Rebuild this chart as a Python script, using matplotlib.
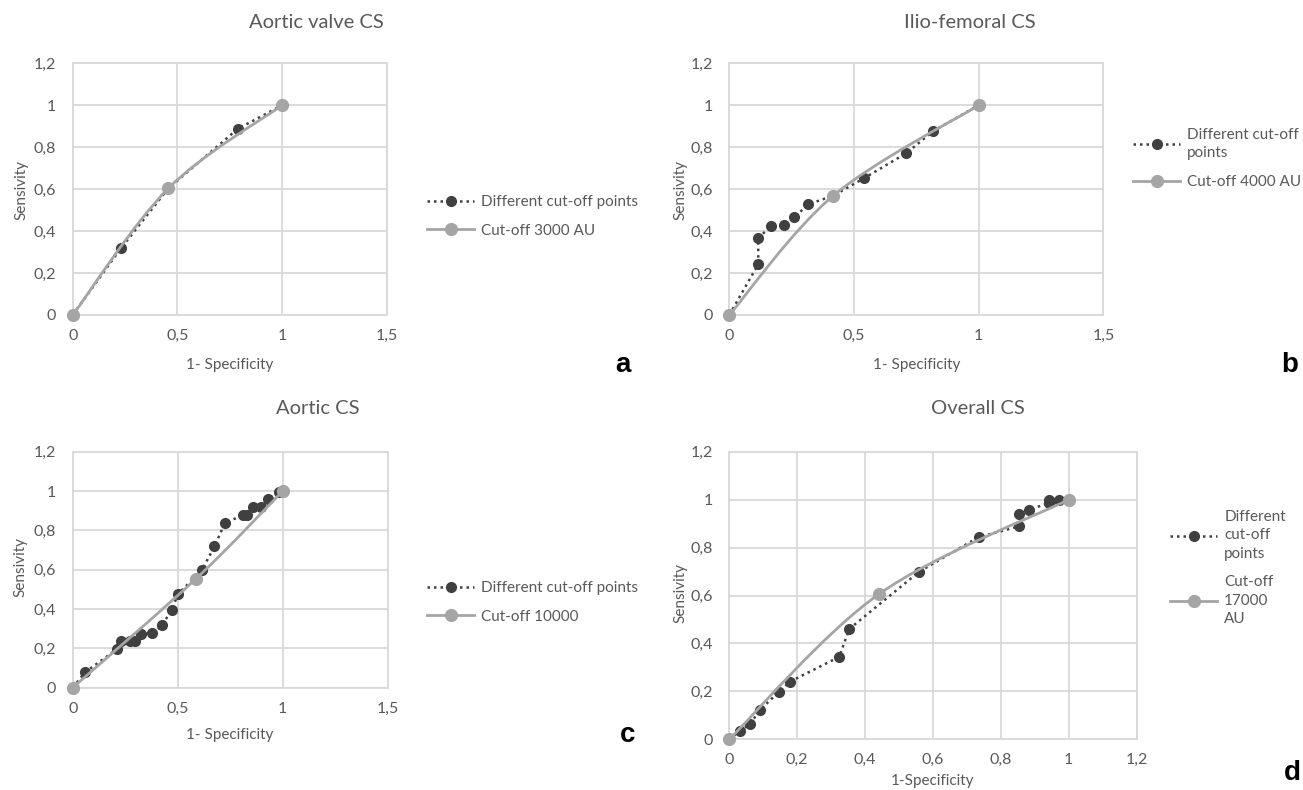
import numpy as np
import matplotlib
matplotlib.use('Agg')
import matplotlib.pyplot as plt
from matplotlib.path import Path
from matplotlib.patches import PathPatch
from matplotlib.lines import Line2D
from matplotlib.ticker import FuncFormatter, MultipleLocator

plt.rcParams['font.family'] = ['Lato', 'DejaVu Sans']

# ---- data ----
# a: Aortic valve CS
av_x = [0, 0.23, 0.457, 0.788, 1]
av_y = [0, 0.318, 0.604, 0.887, 1]
av_cut_x = [0, 0.457, 1]
av_cut_y = [0, 0.604, 1]

# b: Ilio-femoral CS
if_x = [0, 0.116, 0.116, 0.168, 0.218, 0.261, 0.317, 0.417, 0.540, 0.709, 0.818, 1]
if_y = [0, 0.242, 0.366, 0.426, 0.429, 0.466, 0.528, 0.569, 0.652, 0.771, 0.877, 1]
if_cut_x = [0, 0.417, 1]
if_cut_y = [0, 0.569, 1]

# c: Aortic CS
ao_x = [0, 0.059, 0.210, 0.229, 0.273, 0.297, 0.325, 0.379, 0.427, 0.471, 0.503,
        0.614, 0.675, 0.725, 0.813, 0.829, 0.860, 0.895, 0.932, 0.984, 1]
ao_y = [0, 0.078, 0.196, 0.238, 0.236, 0.236, 0.275, 0.277, 0.318, 0.397, 0.478,
        0.596, 0.718, 0.838, 0.878, 0.878, 0.919, 0.919, 0.959, 0.997, 1]
ao_cut_x = [0, 0.587, 1]
ao_cut_y = [0, 0.554, 1]

# d: Overall CS
ov_x = [0, 0.031, 0.061, 0.090, 0.147, 0.178, 0.324, 0.353, 0.559, 0.735,
        0.853, 0.853, 0.882, 0.941, 0.941, 0.971, 1]
ov_y = [0, 0.035, 0.063, 0.122, 0.199, 0.240, 0.344, 0.460, 0.699, 0.844,
        0.888, 0.942, 0.958, 0.985, 1.0, 1.0, 1]
ov_cut_x = [0, 0.441, 1]
ov_cut_y = [0, 0.606, 1]

titles = ['Aortic valve CS', 'Ilio-femoral CS', 'Aortic CS', 'Overall CS']
xlabels = ['1- Specificity', '1- Specificity', '1- Specificity', '1-Specificity']
dark_label = 'Different cut-off points'
cut_labels = ['Cut-off 3000 AU', 'Cut-off 4000 AU', 'Cut-off 10000', 'Cut-off 17000 AU']
panel_letters = ['a', 'b', 'c', 'd']

DARK = '#404040'
GRAY = '#a5a5a5'
TXT = '#595959'
GRID = '#d9d9d9'


def smooth_path(xs, ys):
    # excel-style smoothed line: cubic bezier through the points
    pts = np.column_stack([xs, ys]).astype(float)
    n = len(pts)
    verts = [pts[0]]
    codes = [Path.MOVETO]
    for i in range(n - 1):
        p0 = pts[max(i - 1, 0)]
        p1 = pts[i]
        p2 = pts[i + 1]
        p3 = pts[min(i + 2, n - 1)]
        verts += [p1 + (p2 - p0) / 6, p2 - (p3 - p1) / 6, p2]
        codes += [Path.CURVE4] * 3
    return Path(verts, codes)


W, H = 1303, 790
fig = plt.figure(figsize=(W / 100, H / 100), dpi=100)


def px(l, r, t, b):
    return [l / W, 1 - b / H, (r - l) / W, (b - t) / H]


panels = [
    dict(rect=px(72.7, 386.7, 63.3, 315), xmax=1.5, xstep=0.5, data=(av_x, av_y, av_cut_x, av_cut_y),
         title=(316, 23), ylab=(21, 190), xlab=(230, 365), letter=(623, 365),
         leg=(427, 195), leg_lab=[dark_label, cut_labels[0]]),
    dict(rect=px(729.3, 1103.4, 63.3, 315), xmax=1.5, xstep=0.5, data=(if_x, if_y, if_cut_x, if_cut_y),
         title=(970, 23), ylab=(680, 190), xlab=(917, 365), letter=(1290, 365),
         leg=(1133, 128), leg_lab=['Different cut-off\npoints', cut_labels[1]]),
    dict(rect=px(72.7, 387.7, 451.7, 687.7), xmax=1.5, xstep=0.5, data=(ao_x, ao_y, ao_cut_x, ao_cut_y),
         title=(318, 409), ylab=(20, 567), xlab=(230, 735), letter=(628, 735),
         leg=(427, 581), leg_lab=[dark_label, cut_labels[2]]),
    dict(rect=px(729.3, 1136.7, 451.7, 739.3), xmax=1.2, xstep=0.2, data=(ov_x, ov_y, ov_cut_x, ov_cut_y),
         title=(978, 409), ylab=(680, 593), xlab=(933, 781), letter=(1292, 773),
         leg=(1170, 510), leg_lab=['Different\ncut-off\npoints', 'Cut-off\n17000\nAU']),
]

fmt = FuncFormatter(lambda v, p: ('%g' % round(v, 2)).replace('.', ','))

for i, p in enumerate(panels):
    ax = fig.add_axes(p['rect'])
    x, y, cx, cy = p['data']

    ax.plot(x, y, color=DARK, ls=(0, (1, 1.6)), lw=1.8, marker='o', ms=7, zorder=3, clip_on=False)
    ax.add_patch(PathPatch(smooth_path(cx, cy), fill=False, edgecolor=GRAY, lw=2, zorder=4))
    ax.plot(cx, cy, ls='none', marker='o', ms=8.5, color=GRAY, zorder=5, clip_on=False)

    ax.set_xlim(0, p['xmax'])
    ax.set_ylim(0, 1.2)
    ax.xaxis.set_major_locator(MultipleLocator(p['xstep']))
    ax.yaxis.set_major_locator(MultipleLocator(0.2))
    ax.xaxis.set_major_formatter(fmt)
    ax.yaxis.set_major_formatter(fmt)
    ax.grid(True, color=GRID, lw=1.3, zorder=0)
    ax.set_axisbelow(True)
    for s in ax.spines.values():
        s.set_color(GRID)
        s.set_linewidth(1.3)
    ax.tick_params(length=0, colors=TXT, labelsize=11.5)
    ax.tick_params(axis='x', pad=10)
    ax.tick_params(axis='y', pad=12)

    fig.text(p['title'][0] / W, 1 - p['title'][1] / H, titles[i], ha='center', va='center',
             fontsize=14.5, color=TXT)
    fig.text(p['ylab'][0] / W, 1 - p['ylab'][1] / H, 'Sensivity', rotation=90,
             ha='center', va='center', fontsize=11, color=TXT)
    fig.text(p['xlab'][0] / W, 1 - p['xlab'][1] / H, xlabels[i], ha='center', va='center',
             fontsize=11, color=TXT)
    fig.text(p['letter'][0] / W, 1 - p['letter'][1] / H, panel_letters[i], ha='center', va='center',
             fontsize=20, fontweight='bold', color='black', family='Liberation Sans')

    handles = [Line2D([], [], color=DARK, ls=(0, (1, 1.6)), lw=1.8, marker='o', ms=7),
               Line2D([], [], color=GRAY, lw=2, marker='o', ms=8.5)]
    leg = ax.legend(handles, p['leg_lab'], loc='upper left',
                    bbox_to_anchor=(p['leg'][0] / W, 1 - p['leg'][1] / H),
                    bbox_transform=fig.transFigure, frameon=False, borderpad=0,
                    borderaxespad=0, handlelength=3.1, handletextpad=0.45,
                    labelspacing=0.95, fontsize=11)
    for t in leg.get_texts():
        t.set_color(TXT)
        t.set_linespacing(1.4)

fig.savefig('out.png', dpi=100)
